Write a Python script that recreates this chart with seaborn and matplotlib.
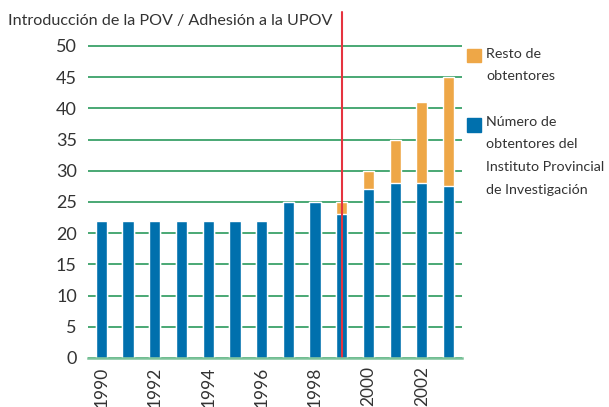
import matplotlib
matplotlib.use("Agg")
import matplotlib.pyplot as plt
import seaborn as sns
import pandas as pd
import numpy as np
from matplotlib.patches import Rectangle

# Data
years = [1990, 1991, 1992, 1993, 1994, 1995, 1996,
         1997, 1998, 1999, 2000, 2001, 2002, 2003]
ipi = [22, 22, 22, 22, 22, 22, 22, 25, 25, 23, 27, 28, 28, 27.5]
resto = [0, 0, 0, 0, 0, 0, 0, 0, 0, 2, 3, 7, 13, 17.5]
tick_labels = [str(y) if y % 2 == 0 else "" for y in years]
marker_year = "1999"

title = "Introducción de la POV / Adhesión a la UPOV"
label_resto = "Resto de\nobtentores"
label_ipi = "Número de\nobtentores del\nInstituto Provincial\nde Investigación"

BLUE = "#0070ad"
ORANGE = "#eea747"
GREEN = "#2a9a5c"
RED = "#e5333f"
TEXT = "#333333"

sns.set_style("white")
plt.rcParams['font.family'] = ['Lato', 'DejaVu Sans']

df = pd.DataFrame({'year': [str(y) for y in years], 'ipi': ipi, 'resto': resto})
df['total'] = df['ipi'] + df['resto']

fig = plt.figure(figsize=(6.09, 4.07), dpi=100)
ax = fig.add_axes([0.1445, 0.1204, 0.614, 0.773])

# stacked bars: total in orange, then blue on top
sns.barplot(data=df, x='year', y='total', color=ORANGE, width=0.42,
            saturation=1, errorbar=None, ax=ax)
sns.barplot(data=df, x='year', y='ipi', color=BLUE, width=0.42,
            saturation=1, errorbar=None, ax=ax)

ax.set_xlim(-0.5, len(years) - 0.5)
ax.set_ylim(0, 50.4)
ax.set_yticks(range(0, 55, 5))
ax.yaxis.grid(True, color=GREEN, lw=1.2)
ax.set_axisbelow(True)
for s in ['top', 'right', 'left']:
    ax.spines[s].set_visible(False)
ax.spines['bottom'].set_color('#7cc39a')
ax.spines['bottom'].set_linewidth(1.8)

ax.set_xticks(range(len(years)))
ax.set_xticklabels(tick_labels, rotation=90, va='top')
ax.set_xticks(np.arange(-0.5, len(years), 1), minor=True)
ax.tick_params(axis='x', which='major', length=0, pad=6, labelsize=12.5, labelcolor=TEXT)
ax.tick_params(axis='x', which='minor', length=5, width=1, color='#555555', direction='out')
ax.tick_params(axis='y', length=0, pad=8, labelsize=13, labelcolor=TEXT)
ax.set_xlabel("")
ax.set_ylabel("")

# vertical marker line
xpos = df['year'].tolist().index(marker_year)
ax.axvline(xpos, ymin=0, ymax=1.10, color=RED, lw=1.5, clip_on=False)

fig.text(8 / 609, 1 - 21 / 407, title, va='center', ha='left', fontsize=11.6, color=TEXT)

# legend drawn by hand so the swatch lines up with the first line of text
fig.add_artist(Rectangle((467 / 609, 1 - 62 / 407), 14.5 / 609, 13 / 407,
                         transform=fig.transFigure, color=ORANGE))
fig.add_artist(Rectangle((467 / 609, 1 - 132 / 407), 14.5 / 609, 14 / 407,
                         transform=fig.transFigure, color=BLUE))
fig.text(486 / 609, 1 - 48 / 407, label_resto, va='top', ha='left',
         fontsize=10.3, linespacing=2.05, color=TEXT)
fig.text(486 / 609, 1 - 116 / 407, label_ipi, va='top', ha='left',
         fontsize=10.3, linespacing=2.05, color=TEXT)

fig.savefig("out.png", dpi=100)
